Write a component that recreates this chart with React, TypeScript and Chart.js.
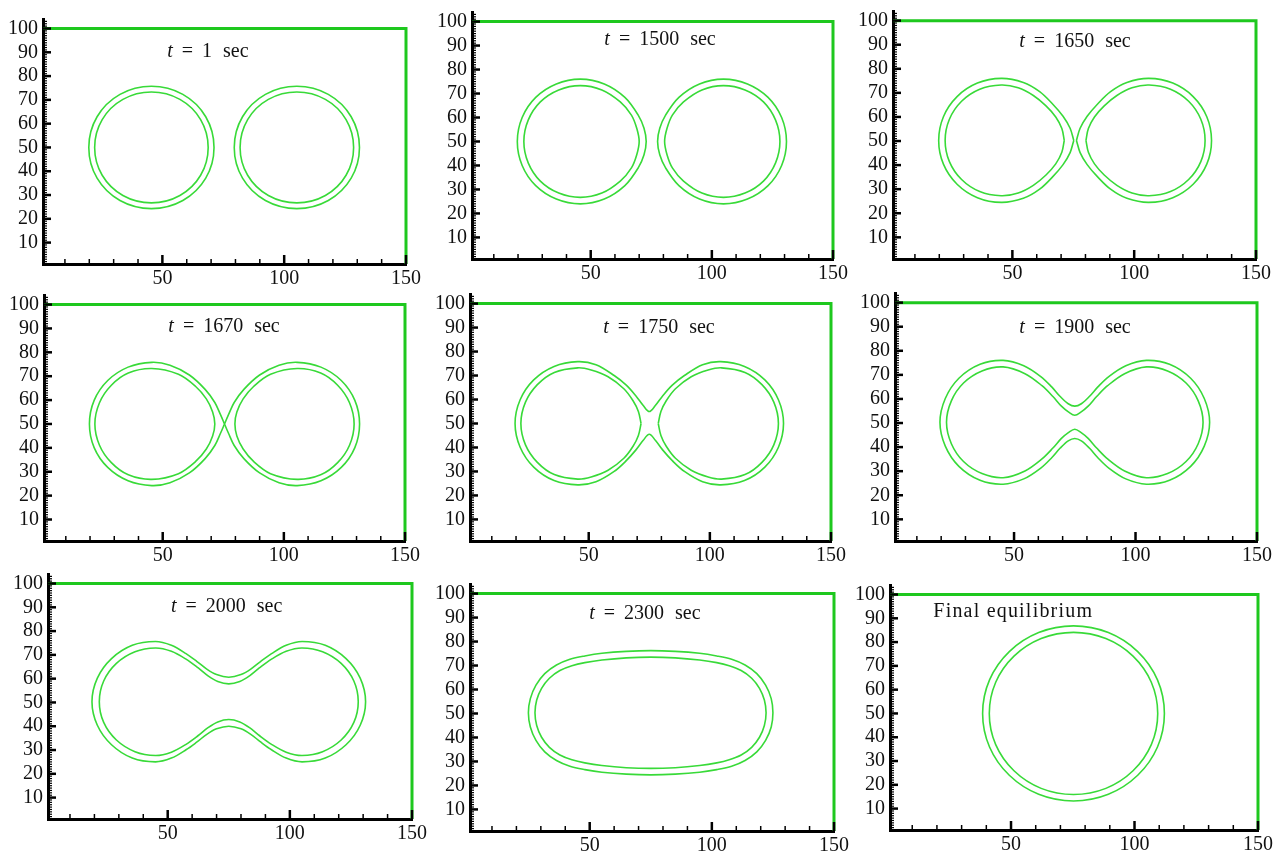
import React, { useEffect, useRef } from 'react';
import { Chart, registerables } from 'chart.js';

Chart.register(...registerables);

type Pt = [number, number];

// ---------- data ----------
const TITLES = ['1', '1500', '1650', '1670', '1750', '1900', '2000', '2300', 'Final equilibrium'];
const TITLE_X = [68.7, 78.6, 75.7, 75.3, 79, 75.1, 74.1, 72.6, 50.9];
const TITLE_Y = [90.4, 92.5, 91.4, 90.6, 89.8, 89.4, 90.4, 91.8, 92.8];

const X_LABEL_TICKS = [50, 100, 150];
const Y_LABEL_TICKS = [10, 20, 30, 40, 50, 60, 70, 80, 90, 100];
const X_MINOR_TICKS = [10, 20, 30, 40, 60, 70, 80, 90, 110, 120, 130, 140];

const BOUNDARY: Pt[] = [[1, 100], [150, 100], [150, 1]];

// t = 1 sec
const P1_L_OUT: Pt[] = [[71.2,50],[67.8,62.9],[58.4,72.3],[45.5,75.7],[32.6,72.3],[23.2,62.9],[19.8,50],[23.2,37.1],[32.6,27.7],[45.5,24.3],[58.4,27.7],[67.8,37.1]];
const P1_L_IN: Pt[] = [[68.8,50],[65.7,61.7],[57.2,70.2],[45.5,73.3],[33.8,70.2],[25.3,61.7],[22.2,50],[25.3,38.3],[33.8,29.8],[45.5,26.7],[57.2,29.8],[65.7,38.3]];
const P1_R_OUT: Pt[] = [[130.9,50],[127.5,62.9],[118.1,72.3],[105.2,75.7],[92.3,72.3],[82.9,62.9],[79.5,50],[82.9,37.1],[92.3,27.7],[105.2,24.3],[118.1,27.7],[127.5,37.1]];
const P1_R_IN: Pt[] = [[128.5,50],[125.4,61.7],[116.9,70.2],[105.2,73.3],[93.5,70.2],[85.0,61.7],[81.9,50],[85.0,38.3],[93.5,29.8],[105.2,26.7],[116.9,29.8],[125.4,38.3]];

// t = 1500 sec
const P2_L_OUT: Pt[] = [[72.9,50],[72.0,55.5],[69.6,61],[64.1,68.4],[55.6,74],[45.7,76],[35.8,74],[27.3,68.4],[21.7,60],[19.7,50],[21.7,40],[27.3,31.6],[35.8,26],[45.7,24],[55.6,26],[64.1,31.6],[69.6,39],[72.0,44.5]];
const P2_L_IN: Pt[] = [[70.0,50],[69.0,55.5],[66.8,61],[62.2,66.5],[54.6,71.5],[45.7,73.3],[36.8,71.5],[29.2,66.5],[24.2,58.9],[22.4,50],[24.2,41.1],[29.2,33.5],[36.8,28.5],[45.7,26.7],[54.6,28.5],[62.2,33.5],[66.8,39],[69.0,44.5]];
const P2_R_OUT: Pt[] = [[77.6,50],[78.5,55.5],[80.9,61],[86.4,68.4],[94.9,74],[104.8,76],[114.7,74],[123.2,68.4],[128.8,60],[130.8,50],[128.8,40],[123.2,31.6],[114.7,26],[104.8,24],[94.9,26],[86.4,31.6],[80.9,39],[78.5,44.5]];
const P2_R_IN: Pt[] = [[80.5,50],[81.5,55.5],[83.7,61],[88.3,66.5],[95.9,71.5],[104.8,73.3],[113.7,71.5],[121.3,66.5],[126.3,58.9],[128.1,50],[126.3,41.1],[121.3,33.5],[113.7,28.5],[104.8,26.7],[95.9,28.5],[88.3,33.5],[83.7,39],[81.5,44.5]];

// t = 1650 sec (pointed tips)
const P3_L_OUT: Pt[] = [[75.2,50.25],[73.7,55.3],[70.8,60.3],[66.6,65.3],[61.2,70.5],[54.5,74.3],[45.5,76],[35.65,74.05],[27.3,68.45],[21.7,60.1],[19.75,50.25],[21.7,40.4],[27.3,32.05],[35.65,26.45],[45.5,24.5],[54.5,26.2],[61.2,30],[66.6,35.2],[70.8,40.2],[73.7,45.2],[75.2,50.25]];
const P3_L_IN: Pt[] = [[71.3,50.25],[70.3,55.2],[67.8,60],[63.8,64.6],[58.6,68.9],[52.4,72.1],[45.4,73.25],[36.6,71.5],[29.15,66.5],[24.15,59.05],[22.4,50.25],[24.15,41.45],[29.15,34],[36.6,29],[45.4,27.25],[52.4,28.4],[58.6,31.6],[63.8,35.9],[67.8,40.5],[70.3,45.3],[71.3,50.25]];
const P3_R_OUT: Pt[] = [[76.3,50.25],[77.8,55.3],[80.7,60.3],[84.9,65.3],[90.3,70.5],[97,74.3],[106,76],[115.85,74.05],[124.2,68.45],[129.8,60.1],[131.75,50.25],[129.8,40.4],[124.2,32.05],[115.85,26.45],[106,24.5],[97,26.2],[90.3,30],[84.9,35.2],[80.7,40.2],[77.8,45.2],[76.3,50.25]];
const P3_R_IN: Pt[] = [[80.2,50.25],[81.2,55.2],[83.7,60],[87.7,64.6],[92.9,68.9],[99.1,72.1],[106.1,73.25],[114.9,71.5],[122.35,66.5],[127.35,59.05],[129.1,50.25],[127.35,41.45],[122.35,34],[114.9,29],[106.1,27.25],[99.1,28.4],[92.9,31.6],[87.7,35.9],[83.7,40.5],[81.2,45.3],[80.2,50.25]];

// t = 1670 sec (outer contours touch)
const P4_L_OUT: Pt[] = [[75.5,50],[73.8,54],[71.5,59],[67.5,64.5],[61,70.5],[53,74.6],[45.5,75.8],[35.7,73.8],[27.3,68.2],[21.7,59.9],[19.75,50],[21.7,40.1],[27.3,31.8],[35.7,26.2],[45.5,24.2],[53,25.4],[61,29.5],[67.5,35.5],[71.5,41],[73.8,46],[75.5,50]];
const P4_L_IN: Pt[] = [[71.5,50],[70.6,55],[68,60.5],[63.5,65.8],[56.5,70.8],[45.5,73.2],[35.8,71.3],[28.8,66.2],[23.9,58.9],[22,50],[23.9,41.1],[28.8,33.8],[35.8,28.7],[45.5,26.8],[56.5,29.2],[63.5,34.2],[68,39.5],[70.6,45]];
const P4_R_OUT: Pt[] = [[75.5,50],[77.2,54],[79.5,59],[83.5,64.5],[90,70.5],[98,74.6],[105.5,75.8],[115.3,73.8],[123.7,68.2],[129.3,59.9],[131.25,50],[129.3,40.1],[123.7,31.8],[115.3,26.2],[105.5,24.2],[98,25.4],[90,29.5],[83.5,35.5],[79.5,41],[77.2,46],[75.5,50]];
const P4_R_IN: Pt[] = [[79.8,50],[80.6,55],[83.2,60.5],[87.6,65.8],[94.5,70.8],[105.5,73.2],[115.2,71.3],[122.2,66.2],[127.1,58.9],[129,50],[127.1,41.1],[122.2,33.8],[115.2,28.7],[105.5,26.8],[94.5,29.2],[87.6,34.2],[83.2,39.5],[80.6,45]];

// t = 1750 sec (outer merged, inner separate)
const P5_OUT: Pt[] = [[75,55],[72.5,57.5],[69.5,61.5],[65.5,66],[60.5,70],[53,74.5],[45.5,75.8],[35.7,73.8],[27.3,68.2],[21.7,59.9],[19.6,50],[21.7,40.1],[27.3,31.8],[35.7,26.2],[45.5,24.4],[53,25.7],[60.5,30],[65.5,34.5],[69.5,39],[72.5,43],[75,45.5],[77.5,43],[80.5,39],[84.5,34.5],[89.5,30],[97,25.7],[104.5,24.4],[114.3,26.2],[122.7,31.8],[128.3,40.1],[130.4,50],[128.3,59.9],[122.7,68.2],[114.3,73.8],[104.5,75.8],[97,74.5],[89.5,70],[84.5,66],[80.5,61.5],[77.5,57.5]];
const P5_L_IN: Pt[] = [[71.6,50],[70.5,55],[68.3,59.5],[64.5,64.5],[58,69.5],[51,72.3],[45.5,73.2],[35.8,71.3],[28.8,66.2],[23.9,58.9],[22,50],[23.9,41.1],[28.8,33.8],[35.8,28.7],[45.5,26.8],[51,27.7],[58,30.5],[64.5,35.5],[68.3,40.5],[70.5,45],[71.6,50]];
const P5_R_IN: Pt[] = [[78.7,50],[79.8,55],[82,59.5],[85.8,64.5],[92.3,69.5],[99.3,72.3],[104.8,73.2],[114.5,71.3],[121.5,66.2],[126.4,58.9],[128.3,50],[126.4,41.1],[121.5,33.8],[114.5,28.7],[104.8,26.8],[99.3,27.7],[92.3,30.5],[85.8,35.5],[82,40.5],[79.8,45],[78.7,50]];

// t = 1900 sec
const P6_OUT: Pt[] = [[75,57],[72.3,58],[69,61],[65.5,65],[61,69.3],[54,73.8],[45.5,76],[36,74.4],[27.3,68.6],[21.7,60.2],[19.5,50.3],[21.7,40.4],[27.3,32],[36,26.2],[45.5,24.6],[54,26.8],[61,31.3],[65.5,35.6],[69,39.6],[72.3,42.6],[75,43.6],[77.7,42.6],[81,39.6],[84.5,35.6],[89,31.3],[96,26.8],[104.5,24.6],[114,26.2],[122.7,32],[128.3,40.4],[130.5,50.3],[128.3,60.2],[122.7,68.6],[114,74.4],[104.5,76],[96,73.8],[89,69.3],[84.5,65],[81,61],[77.7,58]];
const P6_IN: Pt[] = [[75,53.2],[72.5,54.5],[69.5,57],[66,61],[61.5,65.5],[54.5,70.5],[45.5,73.3],[36.8,71.6],[29.2,66.6],[24.2,59.2],[22.2,50.3],[24.2,41.4],[29.2,34],[36.8,29],[45.5,27.3],[54.5,30.1],[61.5,35.1],[66,39.6],[69.5,43.6],[72.5,46.1],[75,47.4],[77.5,46.1],[80.5,43.6],[84,39.6],[88.5,35.1],[95.5,30.1],[104.5,27.3],[113.2,29],[120.8,34],[125.8,41.4],[127.8,50.3],[125.8,59.2],[120.8,66.6],[113.2,71.6],[104.5,73.3],[95.5,70.5],[88.5,65.5],[84,61],[80.5,57],[77.5,54.5]];

// t = 2000 sec
const P7_OUT: Pt[] = [[75,60.6],[70,61.7],[66,64],[62,67.2],[57.5,70.5],[51.5,74],[45,75.6],[35.5,74],[27,68.4],[21.2,60.2],[19,50.3],[21.2,40.4],[27,32.2],[35.5,26.6],[45,25],[51.5,26.6],[57.5,30.1],[62,33.4],[66,36.6],[70,38.9],[75,40],[80,38.9],[84,36.6],[88,33.4],[92.5,30.1],[98.5,26.6],[105,25],[114.5,26.6],[123,32.2],[128.8,40.4],[131,50.3],[128.8,60.2],[123,68.4],[114.5,74],[105,75.6],[98.5,74],[92.5,70.5],[88,67.2],[84,64],[80,61.7]];
const P7_IN: Pt[] = [[75,57.8],[70.5,58.8],[66.5,61.2],[62.5,64.5],[57.5,68.2],[51.5,71.5],[45,72.9],[36.6,71.3],[29,66.4],[23.8,59],[22,50.3],[23.8,41.6],[29,34.2],[36.6,29.3],[45,27.7],[51.5,29.1],[57.5,32.4],[62.5,36.1],[66.5,39.4],[70.5,41.8],[75,42.8],[79.5,41.8],[83.5,39.4],[87.5,36.1],[92.5,32.4],[98.5,29.1],[105,27.7],[113.4,29.3],[121,34.2],[126.2,41.6],[128,50.3],[126.2,59],[121,66.4],[113.4,71.3],[105,72.9],[98.5,71.5],[92.5,68.2],[87.5,64.5],[83.5,61.2],[79.5,58.8]];

// t = 2300 sec
const P8_OUT: Pt[] = [[125,50.3],[124.3,56.2],[122,61.8],[118.4,66.6],[113.6,70.2],[108.1,72.6],[102,74],[95,75.1],[85,75.9],[75,76.2],[65,75.9],[55,75.1],[48,74],[41.9,72.6],[36.4,70.2],[31.6,66.6],[28,61.8],[25.7,56.2],[24.9,50.3],[25.7,44.4],[28,38.8],[31.6,34],[36.4,30.4],[41.9,28],[48,26.6],[55,25.5],[65,24.7],[75,24.4],[85,24.7],[95,25.5],[102,26.6],[108.1,28],[113.6,30.4],[118.4,34],[122,38.8],[124.3,44.4]];
const P8_IN: Pt[] = [[122.2,50.3],[121.5,55.6],[119.5,60.5],[116.3,64.7],[112,67.9],[107.1,69.9],[102,71.2],[95,72.3],[85,73.2],[75,73.5],[65,73.2],[55,72.3],[48,71.2],[42.7,69.9],[37.8,67.9],[33.5,64.7],[30.3,60.5],[28.3,55.6],[27.6,50.3],[28.3,45],[30.3,40.1],[33.5,35.9],[37.8,32.7],[42.7,30.7],[48,29.4],[55,28.3],[65,27.4],[75,27.1],[85,27.4],[95,28.3],[102,29.4],[107.1,30.7],[112,32.7],[116.3,35.9],[119.5,40.1],[121.5,45]];

// final equilibrium
const P9_OUT: Pt[] = [[112.1,50],[109.3,64.1],[101.3,76],[89.4,84],[75.3,86.8],[61.2,84],[49.3,76],[41.3,64.1],[38.5,50],[41.3,35.9],[49.3,24],[61.2,16],[75.3,13.2],[89.4,16],[101.3,24],[109.3,35.9]];
const P9_IN: Pt[] = [[109.4,50],[106.8,63.1],[99.4,74.1],[88.4,81.5],[75.3,84.1],[62.2,81.5],[51.2,74.1],[43.8,63.1],[41.2,50],[43.8,36.9],[51.2,25.9],[62.2,18.5],[75.3,15.9],[88.4,18.5],[99.4,25.9],[106.8,36.9]];

type Contour = { pts: Pt[]; closed: boolean };
const C = (pts: Pt[], closed: boolean): Contour => ({ pts, closed });

const PANEL_CONTOURS: Contour[][] = [
  [C(P1_L_OUT, true), C(P1_L_IN, true), C(P1_R_OUT, true), C(P1_R_IN, true)],
  [C(P2_L_OUT, true), C(P2_L_IN, true), C(P2_R_OUT, true), C(P2_R_IN, true)],
  [C(P3_L_OUT, false), C(P3_L_IN, false), C(P3_R_OUT, false), C(P3_R_IN, false)],
  [C(P4_L_OUT, false), C(P4_L_IN, true), C(P4_R_OUT, false), C(P4_R_IN, true)],
  [C(P5_OUT, true), C(P5_L_IN, false), C(P5_R_IN, false)],
  [C(P6_OUT, true), C(P6_IN, true)],
  [C(P7_OUT, true), C(P7_IN, true)],
  [C(P8_OUT, true), C(P8_IN, true)],
  [C(P9_OUT, true), C(P9_IN, true)],
];

// ---------- layout (page pixels of each plot area: left, right, top(y=104), bottom(y=1)) ----------
const BOXES = [
  { l: 43, r: 406, t: 14, b: 264 },
  { l: 472, r: 833, t: 7, b: 259 },
  { l: 893, r: 1256, t: 6, b: 259 },
  { l: 44, r: 405, t: 290, b: 541 },
  { l: 470, r: 831, t: 289, b: 541 },
  { l: 895, r: 1257, t: 288, b: 541 },
  { l: 48, r: 412, t: 569, b: 819 },
  { l: 470, r: 834, t: 579, b: 831 },
  { l: 890, r: 1258, t: 580, b: 830 },
];
const Y_W = 46;
const X_H = 30;
const PAD_T = 12;
const PAD_R = 18;

const CONTOUR_COLOR = '#38da38';
const BOUNDARY_COLOR = '#1ec81e';
const SERIF = "'Liberation Serif', 'DejaVu Serif', serif";

const innerTicks = {
  id: 'innerTicks',
  afterDatasetsDraw(chart: any) {
    const { ctx, chartArea, scales } = chart;
    const x = scales.x;
    const y = scales.y;
    ctx.save();
    ctx.strokeStyle = '#000';
    ctx.lineCap = 'butt';
    const drawX = (v: number, len: number, w: number) => {
      const px = x.getPixelForValue(v);
      ctx.lineWidth = w;
      ctx.beginPath();
      ctx.moveTo(px, chartArea.bottom);
      ctx.lineTo(px, chartArea.bottom - len);
      ctx.stroke();
    };
    const drawY = (v: number, len: number, w: number) => {
      const py = y.getPixelForValue(v);
      ctx.lineWidth = w;
      ctx.beginPath();
      ctx.moveTo(chartArea.left, py);
      ctx.lineTo(chartArea.left + len, py);
      ctx.stroke();
    };
    X_MINOR_TICKS.forEach((v) => drawX(v, 5, 1.5));
    X_LABEL_TICKS.forEach((v) => drawX(v, 9, 2.5));
    for (let v = 2; v <= 103; v++) {
      if (Y_LABEL_TICKS.indexOf(v) < 0) drawY(v, 4, 1.2);
    }
    Y_LABEL_TICKS.forEach((v) => drawY(v, 8, 2.5));
    ctx.restore();
  },
};

const panelTitle = {
  id: 'panelTitle',
  afterDatasetsDraw(chart: any, _args: any, opts: any) {
    const { ctx, scales } = chart;
    const cx = scales.x.getPixelForValue(opts.x);
    const cy = scales.y.getPixelForValue(opts.y);
    ctx.save();
    ctx.fillStyle = '#111';
    ctx.textBaseline = 'middle';
    ctx.textAlign = 'left';
    if (opts.plain) {
      ctx.font = `20px ${SERIF}`;
      (ctx as any).letterSpacing = '1.2px';
      const w = ctx.measureText(opts.text).width;
      ctx.fillText(opts.text, cx - w / 2, cy);
    } else {
      const parts = [
        { s: 't', it: true, gap: 0 },
        { s: '=', it: false, gap: 9 },
        { s: opts.text, it: false, gap: 9 },
        { s: 'sec', it: false, gap: 11 },
      ];
      let total = 0;
      const widths = parts.map((p) => {
        ctx.font = `${p.it ? 'italic ' : ''}20px ${SERIF}`;
        const w = ctx.measureText(p.s).width;
        total += w + p.gap;
        return w;
      });
      let xx = cx - total / 2;
      parts.forEach((p, i) => {
        xx += p.gap;
        ctx.font = `${p.it ? 'italic ' : ''}20px ${SERIF}`;
        ctx.fillText(p.s, xx, cy);
        xx += widths[i];
      });
    }
    ctx.restore();
  },
};

function buildDatasets(contours: Contour[]) {
  const sets: any[] = [
    {
      data: BOUNDARY.map(([x, y]) => ({ x, y })),
      borderColor: BOUNDARY_COLOR,
      borderWidth: 3,
      tension: 0,
      pointRadius: 0,
      clip: false,
    },
  ];
  contours.forEach((c) => {
    const pts = c.closed ? [c.pts[c.pts.length - 1], ...c.pts, c.pts[0], c.pts[1]] : c.pts;
    const n = pts.length;
    sets.push({
      data: pts.map(([x, y]) => ({ x, y })),
      borderColor: CONTOUR_COLOR,
      borderWidth: 1.6,
      tension: 0.34,
      pointRadius: 0,
      clip: false,
      segment: c.closed
        ? {
            borderColor: (ctx: any) =>
              ctx.p0DataIndex === 0 || ctx.p1DataIndex === n - 1 ? 'rgba(0,0,0,0)' : undefined,
          }
        : undefined,
    });
  });
  return sets;
}

function Panel({ idx }: { idx: number }) {
  const ref = useRef<HTMLCanvasElement | null>(null);
  const box = BOXES[idx];
  const width = box.r - box.l + Y_W + PAD_R;
  const height = box.b - box.t + PAD_T + X_H;

  useEffect(() => {
    if (!ref.current) return;
    const isPlain = idx === 8;
    const chart = new Chart(ref.current, {
      type: 'line',
      data: { datasets: buildDatasets(PANEL_CONTOURS[idx]) },
      plugins: [innerTicks, panelTitle],
      options: {
        animation: false,
        responsive: false,
        events: [],
        layout: { padding: { top: PAD_T, right: PAD_R, left: 0, bottom: 0 } },
        plugins: {
          legend: { display: false },
          tooltip: { enabled: false },
          panelTitle: { x: TITLE_X[idx], y: TITLE_Y[idx], text: TITLES[idx], plain: isPlain },
        } as any,
        scales: {
          x: {
            type: 'linear',
            min: 1,
            max: 150,
            grid: { display: false, drawTicks: false },
            border: { display: true, color: '#000', width: 3 },
            afterBuildTicks: (s: any) => {
              s.ticks = X_LABEL_TICKS.map((v) => ({ value: v }));
            },
            afterFit: (s: any) => {
              s.height = X_H;
            },
            ticks: { color: '#111', font: { family: SERIF, size: 20 }, padding: 3, maxRotation: 0, autoSkip: false },
          },
          y: {
            type: 'linear',
            min: 1,
            max: 104,
            grid: { display: false, drawTicks: false },
            border: { display: true, color: '#000', width: 3 },
            afterBuildTicks: (s: any) => {
              s.ticks = Y_LABEL_TICKS.map((v) => ({ value: v }));
            },
            afterFit: (s: any) => {
              s.width = Y_W;
            },
            ticks: { color: '#111', font: { family: SERIF, size: 20 }, padding: 5, autoSkip: false },
          },
        },
      } as any,
    });
    return () => chart.destroy();
  }, [idx]);

  return (
    <canvas
      ref={ref}
      width={width}
      height={height}
      style={{
        position: 'absolute',
        left: box.l - Y_W,
        top: box.t - PAD_T,
        width,
        height,
      }}
    />
  );
}

export default function App() {
  return (
    <div
      style={{
        position: 'absolute',
        left: 0,
        top: 0,
        width: 1276,
        height: 854,
        background: '#fff',
        overflow: 'hidden',
      }}
    >
      {BOXES.map((_, i) => (
        <Panel key={i} idx={i} />
      ))}
    </div>
  );
}
